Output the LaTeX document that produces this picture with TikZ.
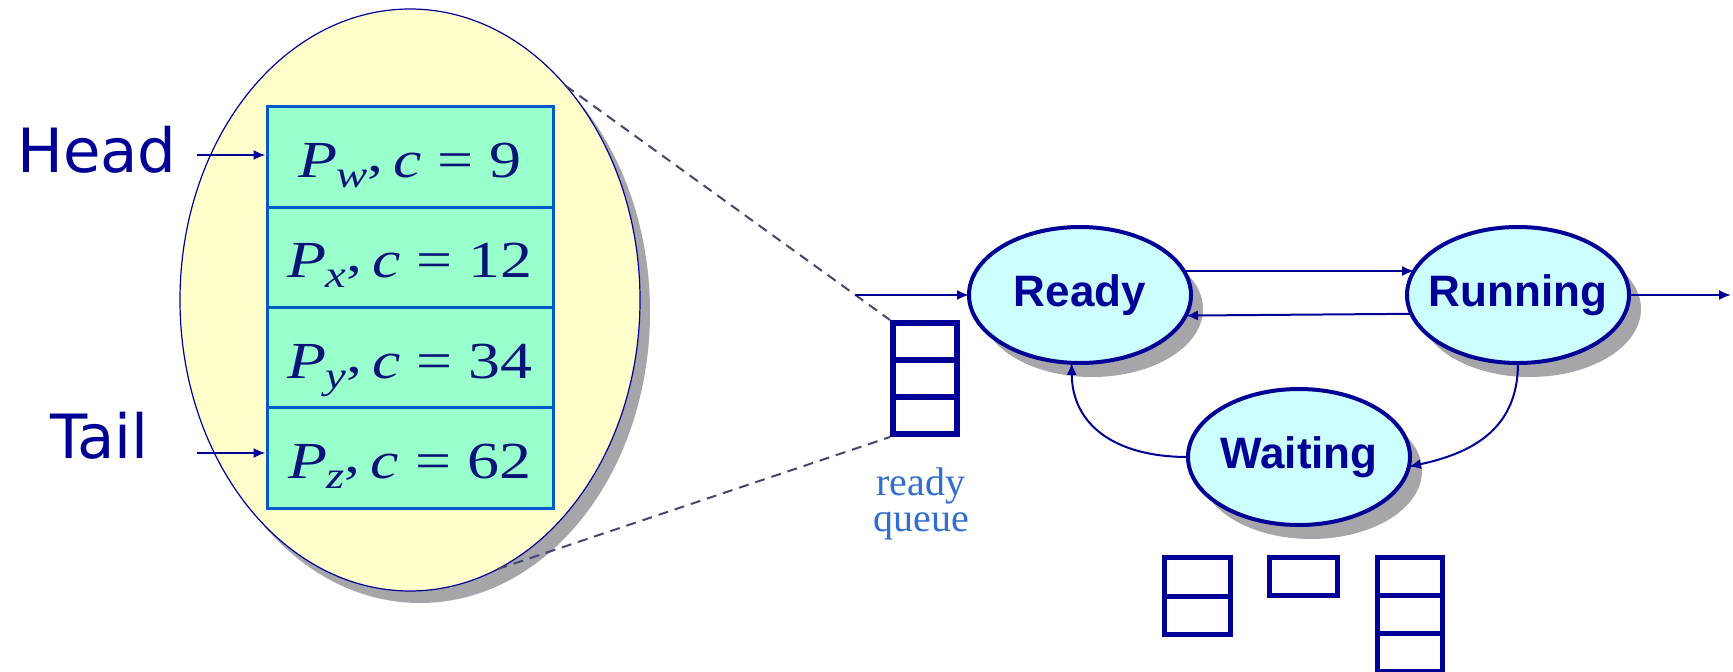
\documentclass[tikz,border=0pt]{standalone}
\usepackage{fontspec}
\setmainfont{Liberation Serif}
\newfontfamily\headfont{DejaVu Sans}
\newfontfamily\statefont{Liberation Sans}
\usetikzlibrary{shapes.geometric,arrows.meta,shadows,calc}
\definecolor{navy}{RGB}{0,0,150}
\definecolor{textnavy}{RGB}{10,20,120}
\definecolor{bigfill}{RGB}{255,255,204}
\definecolor{rowfill}{RGB}{153,255,204}
\definecolor{rowline}{RGB}{0,90,200}
\definecolor{statefill}{RGB}{204,255,255}
\definecolor{shade}{RGB}{165,165,170}
\definecolor{qlabel}{RGB}{50,110,210}
\definecolor{dashcol}{RGB}{70,70,110}
\newcommand{\procrow}[2]{\scalebox{1.23}[1]{\textit{P}\kern-1pt\raisebox{-10pt}{\fontsize{38}{38}\selectfont\textit{#1}}\raisebox{6pt}{,}\kern8pt\textit{c} = #2}}
\begin{document}
\begin{tikzpicture}[x=1pt,y=-1pt,
  arr/.style={navy, line width=2pt, -{Latex[length=12pt,width=10pt]}},
  bigell/.style={ellipse, draw=navy, line width=1.2pt, fill=bigfill, minimum width=460pt, minimum height=582pt, inner sep=0pt, outer sep=0pt, drop shadow={shadow xshift=10pt, shadow yshift=-12pt, fill=shade, opacity=1}},
  procbox/.style={rectangle, draw=rowline, line width=3pt, fill=rowfill, minimum width=286pt, minimum height=100.25pt, inner sep=0pt, text height=41pt, text depth=0pt, font=\fontsize{52}{52}\selectfont, text=textnavy},
  side/.style={font=\headfont\fontsize{61}{61}\selectfont, text=navy, inner sep=0pt},
  state/.style={ellipse, draw=navy, line width=4pt, fill=statefill, minimum width=222pt, minimum height=136pt, inner sep=0pt, outer sep=0pt, font=\statefont\bfseries\fontsize{44}{44}\selectfont, text=navy, drop shadow={shadow xshift=12pt, shadow yshift=-14pt, fill=shade, opacity=1}},
  qcell/.style={rectangle, draw=navy, line width=6pt, fill=white, inner sep=0pt, outer sep=0pt},
  qline/.style={navy, line width=6pt},
  qlab/.style={font=\fontsize{40}{36}\selectfont, text=qlabel, inner sep=0pt, align=center},
  guide/.style={dashcol, line width=2pt, dash pattern=on 10pt off 7pt},
]
\useasboundingbox (0,0) rectangle (1733,672);
\fill[white] (0,0) rectangle (1733,672);

% zoomed ready queue
\node[bigell] (zoom) at (410,300) {};
\node[procbox] (r1) at (410,157.1) {\procrow{w}{9}};
\node[procbox] (r2) at (410,257.4) {\procrow{x}{12}};
\node[procbox] (r3) at (410,357.6) {\procrow{y}{34}};
\node[procbox] (r4) at (410,457.9) {\procrow{z}{62}};

\node[side, anchor=base west] (head) at (17,172) {Head};
\node[side, anchor=base west] (tail) at (50,458) {Tail};
\coordinate (hs) at (197,155);
\coordinate (ts) at (197,453);
\draw[arr] (hs) -- (hs -| r1.west);
\draw[arr] (ts) -- (ts -| r4.west);

% ready queue
\node[qcell, minimum width=64pt, minimum height=111pt] (rq) at (925,378.5) {};
\draw[qline] ($(rq.north west)!1/3!(rq.south west)$) -- ($(rq.north east)!1/3!(rq.south east)$);
\draw[qline] ($(rq.north west)!2/3!(rq.south west)$) -- ($(rq.north east)!2/3!(rq.south east)$);
\draw[guide] (zoom.54.6) -- ([xshift=-3pt,yshift=3pt]rq.north west);
\draw[guide] (zoom.288.7) -- ([xshift=-3pt,yshift=-3pt]rq.south west);
\node[qlab] (rql) at (921,503.7) {ready\\queue};

% states
\node[state] (ready) at (1080,295) {\makebox[0pt]{Ready}};
\node[state] (running) at (1518,295) {\makebox[0pt]{Running}};
\node[state] (waiting) at (1299,457) {\makebox[0pt]{Waiting}};

\coordinate (in) at (855,295);
\coordinate (out) at (1731,295);
\draw[arr] (in) -- (ready.west);
\draw[arr] (ready.13) -- (running.167);
\draw[arr] (running.190.7) -- (ready.349.3);
\draw[arr] (running.east) -- (out);
\draw[arr] (running.south) .. controls (1518,425) and (1478,452) .. (waiting.-5);
\draw[arr] (waiting.west) .. controls (1115,457) and (1072,425) .. (ready.263);

% waiting queues
\node[qcell, line width=5pt, minimum width=66pt, minimum height=77pt] (b1) at (1197.5,596) {};
\draw[qline, line width=5pt] (b1.west) -- (b1.east);
\node[qcell, line width=5pt, minimum width=68pt, minimum height=38pt] (b2) at (1303.5,576.5) {};
\node[qcell, line width=5pt, minimum width=65pt, minimum height=113.5pt] (b3) at (1410,614.25) {};
\draw[qline, line width=5pt] ($(b3.north west)!1/3!(b3.south west)$) -- ($(b3.north east)!1/3!(b3.south east)$);
\draw[qline, line width=5pt] ($(b3.north west)!2/3!(b3.south west)$) -- ($(b3.north east)!2/3!(b3.south east)$);
\end{tikzpicture}
\end{document}
